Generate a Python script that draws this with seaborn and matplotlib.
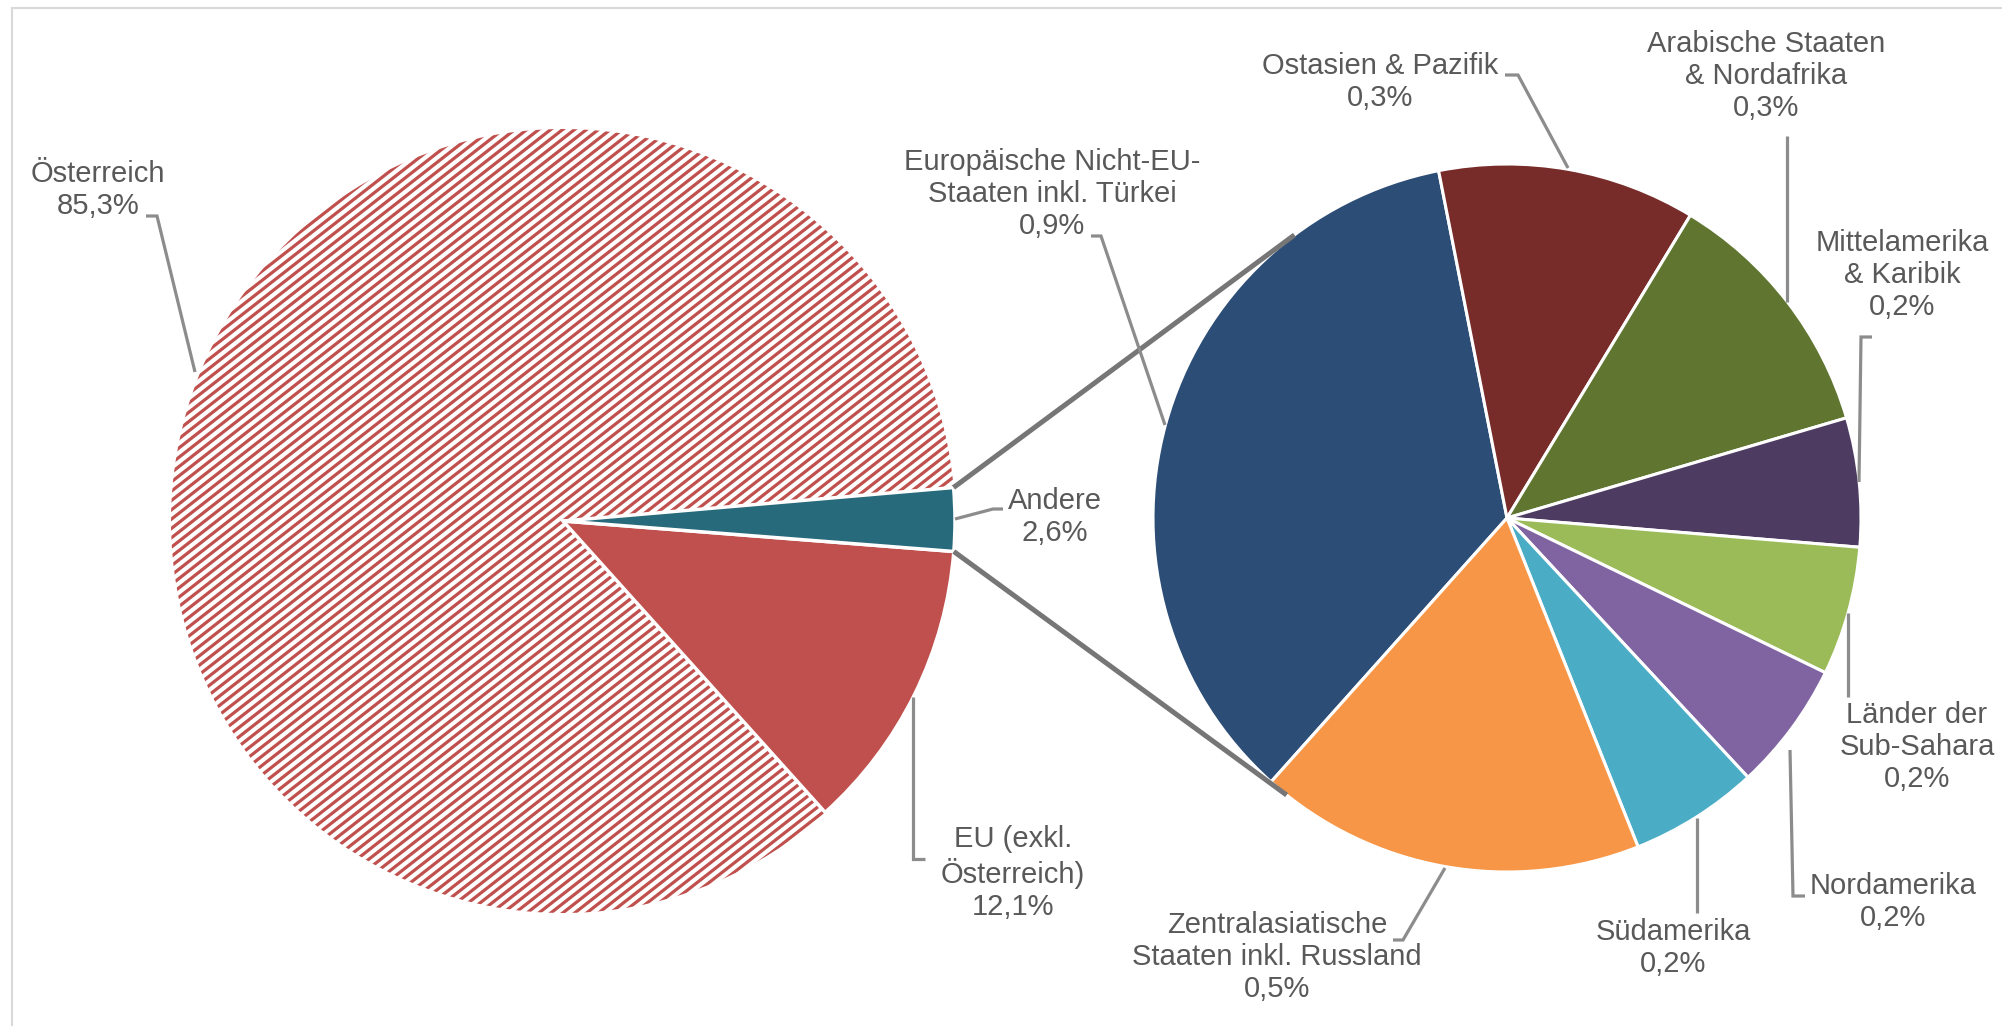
import numpy as np
import matplotlib
matplotlib.use("Agg")
import matplotlib.pyplot as plt
import seaborn as sns
from matplotlib.patches import Rectangle
from matplotlib.collections import LineCollection

# --- data -------------------------------------------------------------
left_labels = ["Österreich", "EU (exkl.\nÖsterreich)", "Andere"]
left_values = [85.3, 12.1, 2.6]
left_colors = ["#C0504D", "#C0504D", "#276A7C"]

right_labels = [
    "Europäische Nicht-EU-\nStaaten inkl. Türkei",
    "Ostasien & Pazifik",
    "Arabische Staaten\n& Nordafrika",
    "Mittelamerika\n& Karibik",
    "Länder der\nSub-Sahara",
    "Nordamerika",
    "Südamerika",
    "Zentralasiatische\nStaaten inkl. Russland",
]
# wedge sizes (share of total population, %)
right_values = [0.9, 0.3, 0.3, 0.15, 0.15, 0.15, 0.15, 0.45]
right_pct_text = ["0,9%", "0,3%", "0,3%", "0,2%", "0,2%", "0,2%", "0,2%", "0,5%"]
right_colors = ["#2C4D75", "#772C2A", "#5F7530", "#4D3B62",
                "#9BBB59", "#8064A2", "#4BACC6", "#F79646"]

# --- layout (pixel coords, y down) ------------------------------------
W, H = 2002, 1026

def up(x, y):
    return (x, H - y)

left_center, left_r = (563, 521), 392
right_center, right_r = (1507, 518), 354

left_text_pos = [(98, 190), (1013, 873), (1055, 517)]
left_leaders = [
    [(146, 216), (157, 216), (195, 372)],
    [(913, 697), (913, 859), (925, 859)],
    [(955, 519), (993, 509), (1003, 509)],
]
right_text_pos = [(1052, 194), (1380, 82), (1766, 76), (1902, 275),
                  (1917, 747), (1893, 902), (1673, 948), (1277, 957)]
right_leaders = [
    [(1091, 236), (1101, 236), (1165, 425)],
    [(1505, 75), (1518, 75), (1568, 168)],
    [(1787, 136), (1787, 302)],
    [(1872, 337), (1861, 337), (1859, 482)],
    [(1848, 613), (1848, 697)],
    [(1790, 750), (1793, 896), (1805, 896)],
    [(1697, 818), (1697, 913)],
    [(1445, 868), (1403, 940), (1393, 940)],
]
# where the connector lines meet the right pie (degrees)
conn_angles = [126.9, 231.5]

# stripe texture of the "Österreich" slice
stripe_angle = 38.0     # degrees
stripe_period = 7.35    # px, perpendicular
stripe_width = 2.3      # pt

# --- style -------------------------------------------------------------
sns.set_theme(style="white")
plt.rcParams["font.family"] = ["Liberation Sans", "DejaVu Sans"]

text_color = "#595959"
leader_color = "#8C8C8C"
conn_color = "#767676"
red = "#C0504D"

fig = plt.figure(figsize=(W / 100, H / 100), dpi=100)
ax = fig.add_axes([0, 0, 1, 1])

# left pie
wl, _ = ax.pie(left_values, colors=left_colors, center=up(*left_center),
               radius=left_r, startangle=4.9, counterclock=True, frame=True,
               wedgeprops=dict(edgecolor="white", linewidth=2.5))
wl[0].set_facecolor("white")
wl[0].set_linewidth(0)
for w in wl[1:]:
    w.set_zorder(2)

# striped fill, clipped to the Österreich wedge
lc = np.array(up(*left_center), dtype=float)
a = np.deg2rad(stripe_angle)
d = np.array([np.cos(a), np.sin(a)])
nrm = np.array([-np.sin(a), np.cos(a)])
L = left_r * 1.2
segs = []
for o in np.arange(-L, L, stripe_period):
    base = lc + o * nrm
    segs.append([base - L * d, base + L * d])
stripes = LineCollection(segs, colors=red, linewidths=stripe_width, zorder=1.5)
ax.add_collection(stripes)
stripes.set_clip_path(wl[0])

# right pie
wr, _ = ax.pie(right_values, colors=right_colors, center=up(*right_center),
               radius=right_r, startangle=228.2, counterclock=False, frame=True,
               wedgeprops=dict(edgecolor="white", linewidth=2.2))

# connector lines from "Andere" to the second pie
rc = np.array(up(*right_center), dtype=float)
andere = wl[2]
for a_left, a_right in zip([andere.theta2, andere.theta1], conn_angles):
    p1 = lc + left_r * np.array([np.cos(np.deg2rad(a_left)), np.sin(np.deg2rad(a_left))])
    p2 = rc + right_r * np.array([np.cos(np.deg2rad(a_right)), np.sin(np.deg2rad(a_right))])
    ax.plot([p1[0], p2[0]], [p1[1], p2[1]], color=conn_color, lw=3.6,
            solid_capstyle="butt", zorder=5)

# labels
def draw_label(text, pos, leader):
    ax.text(*up(*pos), text, ha="center", va="center", multialignment="center",
            fontsize=21, color=text_color, linespacing=1.2, zorder=6)
    xs = [p[0] for p in leader]
    ys = [H - p[1] for p in leader]
    ax.plot(xs, ys, color=leader_color, lw=2.3, zorder=6,
            solid_joinstyle="miter", solid_capstyle="butt")

for name, val, pos, ld in zip(left_labels, left_values, left_text_pos, left_leaders):
    pct = f"{val:.1f}".replace(".", ",") + "%"
    draw_label(f"{name}\n{pct}", pos, ld)

for name, pct, pos, ld in zip(right_labels, right_pct_text, right_text_pos, right_leaders):
    draw_label(f"{name}\n{pct}", pos, ld)

# chart area border (top and left visible)
ax.add_patch(Rectangle(up(12, H + 20), W + 40, H + 12, fill=False,
                       edgecolor="#D9D9D9", lw=1.5, zorder=0))

ax.set_xlim(0, W)
ax.set_ylim(0, H)
ax.set_aspect("equal")
ax.axis("off")

fig.savefig("out.png", dpi=100, facecolor="white")
